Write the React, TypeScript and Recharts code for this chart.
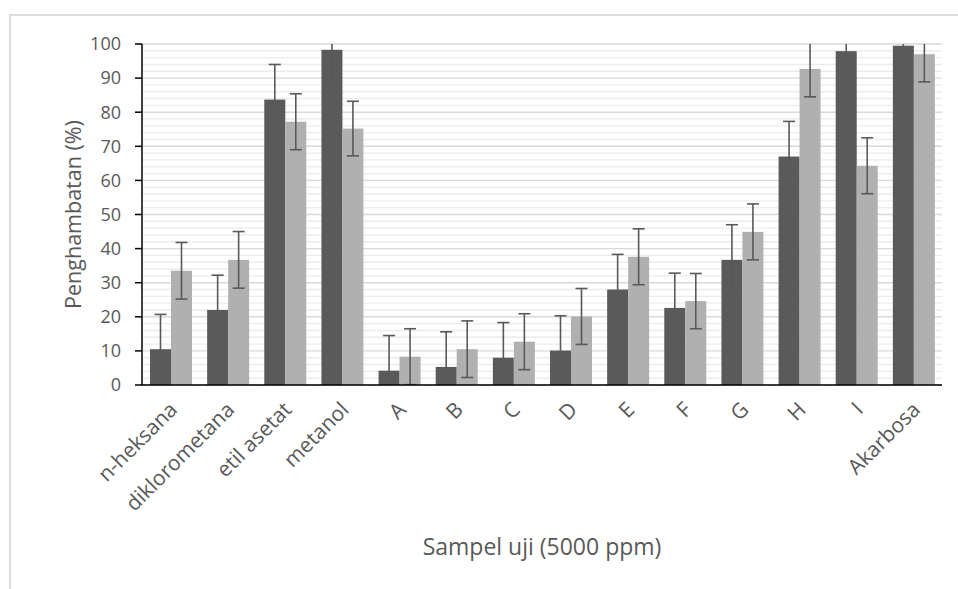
import { Bar, BarChart, CartesianGrid, Label, XAxis, YAxis } from 'recharts';

const categories = ['n-heksana', 'diklorometana', 'etil asetat', 'metanol', 'A', 'B', 'C', 'D', 'E', 'F', 'G', 'H', 'I', 'Akarbosa'];
const darkValues = [10.5, 22, 83.7, 98.3, 4.2, 5.3, 8, 10.1, 28, 22.6, 36.7, 67, 97.9, 99.5];
const darkErrors = [10.2, 10.2, 10.3, 10, 10.3, 10.3, 10.3, 10.2, 10.3, 10.2, 10.3, 10.3, 10, 10.1];
const lightValues = [33.5, 36.7, 77.2, 75.2, 8.3, 10.5, 12.7, 20.1, 37.6, 24.6, 44.9, 92.7, 64.3, 97];
const lightErrors = [8.3, 8.3, 8.2, 8, 8.2, 8.3, 8.2, 8.2, 8.2, 8.1, 8.2, 8.2, 8.2, 8.1];
const yTicks = [0, 10, 20, 30, 40, 50, 60, 70, 80, 90, 100];
const minorTicks = [2, 4, 6, 8, 12, 14, 16, 18, 22, 24, 26, 28, 32, 34, 36, 38, 42, 44, 46, 48, 52, 54, 56, 58, 62, 64, 66, 68, 72, 74, 76, 78, 82, 84, 86, 88, 92, 94, 96, 98];

const data = categories.map((name, i) => ({
  name,
  dark: darkValues[i],
  darkErr: darkErrors[i],
  light: lightValues[i],
  lightErr: lightErrors[i],
}));

const font = '"Open Sans", sans-serif';
const textColor = '#595959';
const errColor = '#595959';

const CategoryTick = ({ x, y, payload }: any) => {
  const ax = x + 8;
  const ay = y + 26;
  return (
    <text x={ax} y={ay} transform={`rotate(-45 ${ax} ${ay})`} textAnchor="end" fill={textColor} fontSize={21} fontFamily={font}>
      {payload.value}
    </text>
  );
};

// bar + error bar, error bar clipped to the plot area like Excel does
const makeShape = (valueKey: string, errKey: string) => (props: any) => {
  const { x, y, width, height, fill, payload, background } = props;
  const v = payload[valueKey];
  const e = payload[errKey];
  const k = v ? height / v : 0;
  const base = y + height;
  const top = background ? background.y : base - 100 * k;
  const bottom = background ? background.y + background.height : base;
  const cx = x + width / 2;
  const hi = y - e * k;
  const lo = y + e * k;
  const hiC = Math.max(hi, top);
  const loC = Math.min(lo, bottom);
  const cap = 6;
  return (
    <g>
      <rect x={x} y={y} width={width} height={height} fill={fill} />
      <line x1={cx} x2={cx} y1={hiC} y2={loC} stroke={errColor} strokeWidth={1.6} />
      {hi >= top && <line x1={cx - cap} x2={cx + cap} y1={hi} y2={hi} stroke={errColor} strokeWidth={1.6} />}
      {lo <= bottom && <line x1={cx - cap} x2={cx + cap} y1={lo} y2={lo} stroke={errColor} strokeWidth={1.6} />}
    </g>
  );
};

export default function App() {
  return (
    <div style={{ position: 'absolute', left: 0, top: 0, width: 958, height: 589, overflow: 'hidden', background: '#fff' }}>
      <div style={{ position: 'absolute', left: 9, top: 14, width: 1000, height: 700, borderLeft: '2px solid #dcdcdc', borderTop: '2px solid #dcdcdc' }} />
      <BarChart
        width={958}
        height={589}
        data={data}
        margin={{ top: 44, right: 16, left: 0, bottom: 84 }}
        barCategoryGap="14%"
        barGap={0}
        style={{ position: 'absolute', left: 0, top: 0, fontFamily: font }}
      >
        <CartesianGrid vertical={false} horizontalValues={minorTicks} stroke="#ececec" strokeWidth={1.4} />
        <CartesianGrid vertical={false} stroke="#d9d9d9" strokeWidth={1.4} />
        <XAxis
          dataKey="name"
          height={120}
          interval={0}
          tickLine={false}
          tickSize={0}
          tickMargin={0}
          axisLine={{ stroke: '#000', strokeWidth: 1.5 }}
          tick={<CategoryTick />}
        >
          <Label
            content={({ viewBox }: any) => (
              <text x={viewBox.x + viewBox.width / 2} y={viewBox.y + 170} textAnchor="middle" fill={textColor} fontSize={23} fontFamily={font}>
                Sampel uji (5000 ppm)
              </text>
            )}
          />
        </XAxis>
        <YAxis
          width={142}
          domain={[0, 100]}
          ticks={yTicks}
          allowDataOverflow
          interval={0}
          tickSize={7}
          tickMargin={14}
          tickLine={{ stroke: '#000', strokeWidth: 1.5 }}
          axisLine={{ stroke: '#000', strokeWidth: 1.5 }}
          tick={{ fill: textColor, fontSize: 18, fontFamily: font }}
        >
          <Label
            content={({ viewBox }: any) => {
              const cx = viewBox.x + 72;
              const cy = viewBox.y + viewBox.height / 2;
              return (
                <text x={cx} y={cy} transform={`rotate(-90 ${cx} ${cy})`} textAnchor="middle" dominantBaseline="central" fill={textColor} fontSize={21.5} fontFamily={font}>
                  Penghambatan (%)
                </text>
              );
            }}
          />
        </YAxis>
        <Bar dataKey="dark" fill="#5a5a5a" isAnimationActive={false} shape={makeShape('dark', 'darkErr')} />
        <Bar dataKey="light" fill="#b0b0b0" isAnimationActive={false} shape={makeShape('light', 'lightErr')} />
      </BarChart>
    </div>
  );
}
